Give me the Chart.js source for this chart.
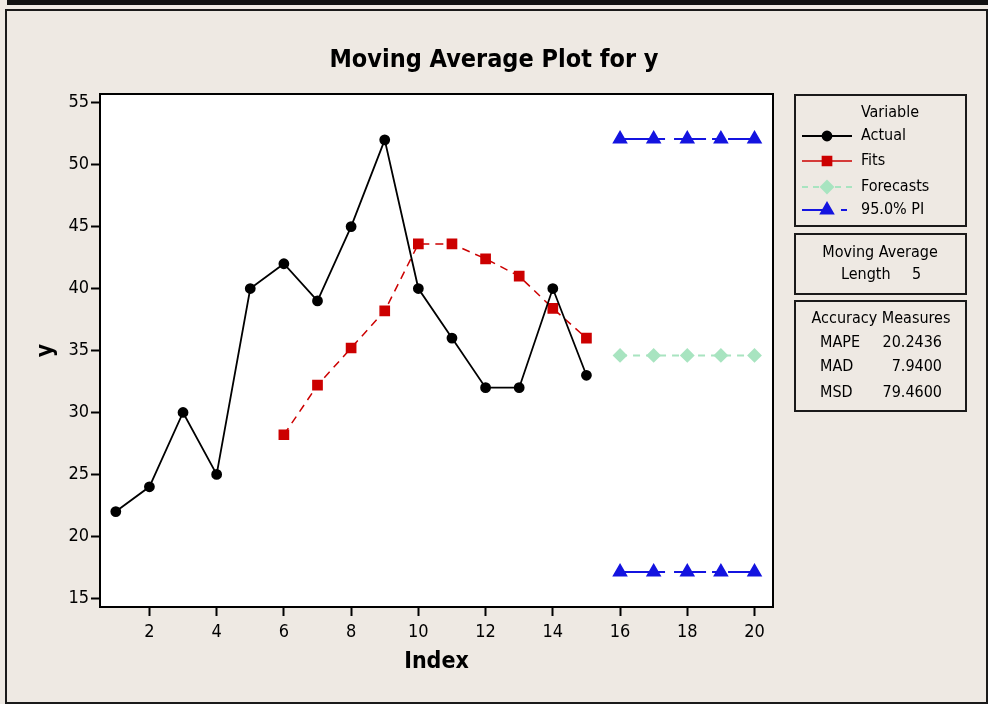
<!DOCTYPE html>
<html>
<head>
<meta charset="utf-8">
<title>Moving Average Plot for y</title>
<script src="https://cdn.jsdelivr.net/npm/chart.js@4.4.1/dist/chart.umd.min.js"></script>
<style>
  html, body { margin: 0; padding: 0; background: #eee9e3; }
  #wrap { width: 988px; height: 704px; }
</style>
</head>
<body>
<div id="wrap"><canvas id="maPlot" width="988" height="704"></canvas></div>
<script>
// data
const actualIndex = [1, 2, 3, 4, 5, 6, 7, 8, 9, 10, 11, 12, 13, 14, 15];
const actual = [22, 24, 30, 25, 40, 42, 39, 45, 52, 40, 36, 32, 32, 40, 33];
const fitIndex = [6, 7, 8, 9, 10, 11, 12, 13, 14, 15];
const fits = [28.2, 32.2, 35.2, 38.2, 43.6, 43.6, 42.4, 41.0, 38.4, 36.0];
const forecastIndex = [16, 17, 18, 19, 20];
const forecasts = [34.6, 34.6, 34.6, 34.6, 34.6];
const upperPI = [52.07, 52.07, 52.07, 52.07, 52.07];
const lowerPI = [17.13, 17.13, 17.13, 17.13, 17.13];
const xTicks = [2, 4, 6, 8, 10, 12, 14, 16, 18, 20];
const yTicks = [15, 20, 25, 30, 35, 40, 45, 50, 55];
const accuracyNames = ["MAPE", "MAD", "MSD"];
const accuracyValues = ["20.2436", "7.9400", "79.4600"];
const maLength = 5;

const FONT = "'DejaVu Sans Condensed', 'DejaVu Sans', sans-serif";

function pts(xs, ys) {
  return xs.map((x, i) => ({ x: x, y: ys[i] }));
}

const background = {
  id: "background",
  beforeDraw(chart) {
    const ctx = chart.ctx;
    const a = chart.chartArea;
    ctx.save();
    ctx.fillStyle = "#eee9e3";
    ctx.fillRect(0, 0, chart.width, chart.height);
    ctx.fillStyle = "#111";
    ctx.fillRect(7, 0, chart.width - 7, 5);
    ctx.strokeStyle = "#1a1a1a";
    ctx.lineWidth = 2;
    ctx.strokeRect(6, 10, 981, 693);
    ctx.fillStyle = "#fff";
    ctx.fillRect(a.left, a.top, a.right - a.left, a.bottom - a.top);
    ctx.restore();
  },
  afterDraw(chart) {
    const ctx = chart.ctx;
    const a = chart.chartArea;
    ctx.save();
    ctx.strokeStyle = "#000";
    ctx.lineWidth = 2;
    ctx.strokeRect(a.left, a.top, a.right - a.left, a.bottom - a.top);
    ctx.restore();
  }
};

// legend rows: label, dataset used for the sample, dash of the sample line
const legendRows = [
  { label: "Actual", ds: 0, dash: [] },
  { label: "Fits", ds: 1, dash: [] },
  { label: "Forecasts", ds: 2, dash: [6, 5] },
  { label: "95.0% PI", ds: 3, dash: [28, 11, 6, 100] }
];

const sideBoxes = {
  id: "sideBoxes",
  afterDraw(chart) {
    const ctx = chart.ctx;
    ctx.save();
    ctx.strokeStyle = "#1a1a1a";
    ctx.lineWidth = 2;
    ctx.strokeRect(795, 95, 171, 131);
    ctx.strokeRect(795, 234, 171, 60);
    ctx.strokeRect(795, 301, 171, 110);

    ctx.fillStyle = "#000";
    ctx.font = "16px " + FONT;
    ctx.textBaseline = "middle";
    ctx.textAlign = "center";
    ctx.fillText("Variable", 890, 113);

    const rowY = [136, 161, 187, 210];
    legendRows.forEach((row, i) => {
      const ds = chart.data.datasets[row.ds];
      const y = rowY[i];
      ctx.save();
      ctx.strokeStyle = ds.borderColor;
      ctx.lineWidth = ds.borderWidth;
      ctx.setLineDash(row.dash);
      ctx.beginPath();
      ctx.moveTo(802, y);
      ctx.lineTo(852, y);
      ctx.stroke();
      ctx.setLineDash([]);
      ctx.fillStyle = ds.pointBackgroundColor;
      ctx.strokeStyle = ds.pointBorderColor;
      Chart.helpers.drawPoint(ctx, {
        pointStyle: ds.pointStyle,
        radius: ds.pointRadius,
        rotation: 0,
        borderWidth: 1
      }, 827, y);
      ctx.restore();
      ctx.textAlign = "left";
      ctx.fillText(row.label, 861, y);
    });

    ctx.textAlign = "center";
    ctx.fillText("Moving Average", 880, 253);
    ctx.textAlign = "left";
    ctx.fillText("Length", 841, 275);
    ctx.fillText(String(maLength), 912, 275);

    ctx.textAlign = "center";
    ctx.fillText("Accuracy Measures", 881, 319);
    const accY = [343, 367, 393];
    accuracyNames.forEach((name, i) => {
      ctx.textAlign = "left";
      ctx.fillText(name, 820, accY[i]);
      ctx.textAlign = "right";
      ctx.fillText(accuracyValues[i], 942, accY[i]);
    });
    ctx.restore();
  }
};

const axisGrid = {
  display: true,
  drawOnChartArea: false,
  drawTicks: true,
  tickLength: 9,
  tickColor: "#000",
  tickWidth: 2
};

new Chart(document.getElementById("maPlot"), {
  type: "line",
  data: {
    datasets: [
      {
        label: "Actual",
        data: pts(actualIndex, actual),
        borderColor: "#000",
        borderWidth: 1.8,
        pointStyle: "circle",
        pointRadius: 4.5,
        pointBackgroundColor: "#000",
        pointBorderColor: "#000",
        tension: 0
      },
      {
        label: "Fits",
        data: pts(fitIndex, fits),
        borderColor: "#cc0000",
        borderWidth: 1.5,
        borderDash: [8, 6],
        pointStyle: "rect",
        pointRadius: 6.5,
        pointBackgroundColor: "#cc0000",
        pointBorderColor: "#cc0000",
        tension: 0
      },
      {
        label: "Forecasts",
        data: pts(forecastIndex, forecasts),
        borderColor: "#a8e4c0",
        borderWidth: 2,
        borderDash: [7, 6],
        pointStyle: "rectRot",
        pointRadius: 6,
        pointBackgroundColor: "#a8e4c0",
        pointBorderColor: "#a8e4c0",
        tension: 0
      },
      {
        label: "95.0% PI",
        data: pts(forecastIndex, upperPI),
        borderColor: "#1414e0",
        borderWidth: 2,
        borderDash: [32, 6, 7, 9],
        pointStyle: "triangle",
        pointRadius: 7,
        pointBackgroundColor: "#1414e0",
        pointBorderColor: "#1414e0",
        tension: 0
      },
      {
        label: "95.0% PI lower",
        data: pts(forecastIndex, lowerPI),
        borderColor: "#1414e0",
        borderWidth: 2,
        borderDash: [32, 6, 7, 9],
        pointStyle: "triangle",
        pointRadius: 7,
        pointBackgroundColor: "#1414e0",
        pointBorderColor: "#1414e0",
        tension: 0
      }
    ]
  },
  options: {
    responsive: false,
    animation: false,
    events: [],
    layout: { padding: 0 },
    plugins: {
      legend: { display: false },
      tooltip: { enabled: false },
      title: {
        display: true,
        text: "Moving Average Plot for y",
        color: "#000",
        font: { family: FONT, size: 25, weight: "bold", lineHeight: 1.2 },
        padding: { top: 45, bottom: 19 }
      }
    },
    scales: {
      x: {
        type: "linear",
        position: "bottom",
        min: 0.53,
        max: 20.55,
        afterBuildTicks: (s) => { s.ticks = xTicks.map((v) => ({ value: v })); },
        afterFit: (s) => { s.height = 97; },
        grid: axisGrid,
        border: { display: true, color: "#000", width: 2 },
        ticks: { color: "#000", padding: 6, font: { family: FONT, size: 18 } },
        title: {
          display: true,
          text: "Index",
          color: "#000",
          font: { family: FONT, size: 23, weight: "bold", lineHeight: 1.2 },
          padding: { top: 0, bottom: 28 }
        }
      },
      y: {
        type: "linear",
        position: "left",
        min: 14.3,
        max: 55.7,
        afterBuildTicks: (s) => { s.ticks = yTicks.map((v) => ({ value: v })); },
        afterFit: (s) => { s.width = 100; },
        grid: axisGrid,
        border: { display: true, color: "#000", width: 2 },
        ticks: { color: "#000", padding: 2, font: { family: FONT, size: 18 } },
        title: {
          display: true,
          text: "y",
          color: "#000",
          font: { family: FONT, size: 23, weight: "bold", lineHeight: 1.2 },
          padding: { top: 32, bottom: 0 }
        }
      },
      // empty right axis that reserves the room for the side boxes
      side: {
        type: "linear",
        axis: "y",
        position: "right",
        display: true,
        grid: { display: false },
        border: { display: false },
        ticks: { display: false },
        afterFit: (s) => { s.width = 215; }
      }
    }
  },
  plugins: [background, sideBoxes]
});
</script>
</body>
</html>
